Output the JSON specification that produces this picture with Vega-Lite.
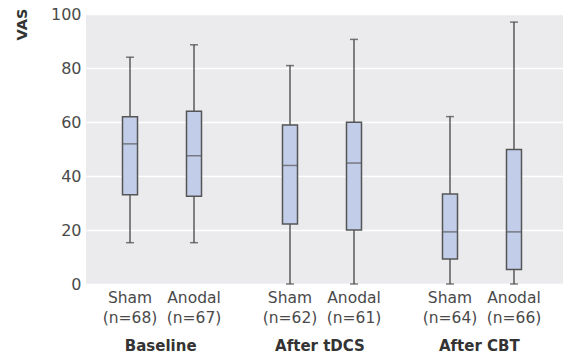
{
  "$schema": "https://vega.github.io/schema/vega-lite/v6.json",
  "padding": {"left": 14, "top": 6, "right": 0, "bottom": 0},
  "background": "white",
  "width": 478,
  "height": 270,
  "data": {
    "values": [
      {"group": "Baseline", "label": "Sham (n=68)", "min": 15.3, "q1": 33.1, "median": 51.9, "q3": 61.9, "max": 84},
      {"group": "Baseline", "label": "Anodal (n=67)", "min": 15.3, "q1": 32.5, "median": 47.5, "q3": 64, "max": 88.6},
      {"group": "After tDCS", "label": "Sham (n=62)", "min": 0, "q1": 22.2, "median": 43.9, "q3": 58.9, "max": 80.9},
      {"group": "After tDCS", "label": "Anodal (n=61)", "min": 0, "q1": 20, "median": 44.8, "q3": 59.9, "max": 90.6},
      {"group": "After CBT", "label": "Sham (n=64)", "min": 0, "q1": 9.3, "median": 19.3, "q3": 33.3, "max": 62},
      {"group": "After CBT", "label": "Anodal (n=66)", "min": 0, "q1": 5.4, "median": 19.3, "q3": 49.8, "max": 97}
    ]
  },
  "layer": [
    {
      "encoding": {
        "x": {
          "field": "label",
          "type": "nominal",
          "scale": {
            "domain": ["Sham (n=68)", "gap1", "Anodal (n=67)", "gap2", "gap3", "Sham (n=62)", "gap4", "Anodal (n=61)", "gap5", "gap6", "Sham (n=64)", "gap7", "Anodal (n=66)"],
            "paddingInner": 0,
            "paddingOuter": 0.969,
            "align": 0.4516
          },
          "axis": {
            "title": null,
            "values": ["Sham (n=68)", "Anodal (n=67)", "Sham (n=62)", "Anodal (n=61)", "Sham (n=64)", "Anodal (n=66)"],
            "labelAngle": 0,
            "labelExpr": "split(datum.label, ' ')",
            "labelFont": "DejaVu Sans",
            "labelFontSize": 15.5,
            "labelColor": "#4a4a4a",
            "labelLineHeight": 20,
            "labelPadding": 6,
            "ticks": false,
            "domain": false,
            "grid": false
          }
        }
      },
      "layer": [
        {
          "mark": {"type": "rule", "color": "#444444", "strokeWidth": 1.3},
          "encoding": {
            "y": {
              "field": "min",
              "type": "quantitative",
              "scale": {"domain": [0, 100], "nice": false},
              "axis": {
                "title": "VAS",
                "titleFont": "DejaVu Sans",
                "titleFontSize": 14.5,
                "titleFontWeight": "bold",
                "titleColor": "#333333",
                "titleAnchor": "end",
                "titleAlign": "right",
                "titleY": -6,
                "titlePadding": 21,
                "values": [0, 20, 40, 60, 80, 100],
                "labelFont": "DejaVu Sans",
                "labelFontSize": 16,
                "labelColor": "#4a4a4a",
                "labelPadding": 5,
                "ticks": false,
                "domain": false,
                "grid": true,
                "gridColor": "white",
                "gridWidth": 1.6
              }
            },
            "y2": {"field": "max"}
          }
        },
        {
          "mark": {"type": "tick", "color": "#444444", "size": 8, "thickness": 1.5},
          "encoding": {"y": {"field": "min", "type": "quantitative"}}
        },
        {
          "mark": {"type": "tick", "color": "#444444", "size": 8, "thickness": 1.5},
          "encoding": {"y": {"field": "max", "type": "quantitative"}}
        },
        {
          "mark": {"type": "bar", "size": 15, "fill": "#c2cee9", "stroke": "#555555", "strokeWidth": 1.5},
          "encoding": {
            "y": {"field": "q1", "type": "quantitative"},
            "y2": {"field": "q3"}
          }
        },
        {
          "mark": {"type": "tick", "color": "#555555", "size": 15, "thickness": 1.5},
          "encoding": {"y": {"field": "median", "type": "quantitative"}}
        }
      ]
    },
    {
      "mark": {"type": "rule", "opacity": 0},
      "encoding": {
        "x": {
          "field": "group",
          "type": "nominal",
          "scale": {"domain": ["Baseline", "After tDCS", "After CBT"], "paddingInner": 0, "paddingOuter": 0},
          "axis": {
            "title": null,
            "orient": "bottom",
            "offset": 50,
            "labelAngle": 0,
            "labelOffset": -5,
            "labelFont": "DejaVu Sans",
            "labelFontSize": 15,
            "labelFontWeight": "bold",
            "labelColor": "#333333",
            "labelPadding": 4,
            "ticks": false,
            "domain": false,
            "grid": false
          }
        }
      }
    }
  ],
  "resolve": {"scale": {"x": "independent"}, "axis": {"x": "independent"}},
  "config": {
    "view": {"fill": "#ebebee", "stroke": null},
    "font": "DejaVu Sans"
  }
}
